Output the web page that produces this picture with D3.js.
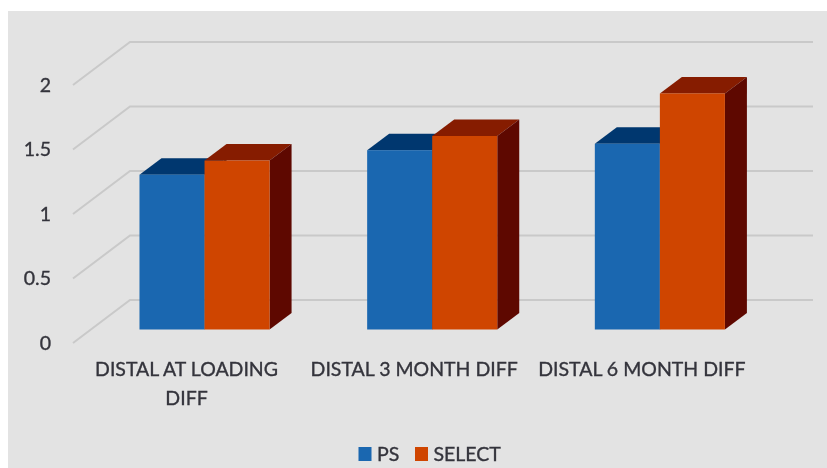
<!DOCTYPE html>
<html>
<head>
<meta charset="utf-8">
<script src="https://cdn.jsdelivr.net/npm/d3@7"></script>
<style>
	html, body { margin: 0; padding: 0; background: #fff; }
	svg { display: block; filter: blur(0.7px); }
	text { font-family: Lato, sans-serif; fill: #34343c; stroke: #34343c; stroke-width: 0.35px; }
</style>
</head>
<body>
<div id="chart"></div>
<script>
const categories = ['DISTAL AT LOADING DIFF', 'DISTAL 3 MONTH DIFF', 'DISTAL 6 MONTH DIFF'];
const psValues = [1.2, 1.39, 1.44];
const selectValues = [1.31, 1.5, 1.83];
const seriesNames = ['PS', 'SELECT'];
const yTicks = [0, 0.5, 1, 1.5, 2];

const width = 827;
const height = 468;
const fontSize = '19.5px';

const svg = d3.select('#chart').append('svg').attr('width', width).attr('height', height);

svg.append('rect').attr('x', 8).attr('y', 11).attr('width', width - 8).attr('height', height - 11).attr('fill', '#e3e3e3');

// bars stand on this scale, the walls are shifted from it
const y = d3.scaleLinear().domain([0, 2]).range([329.5, 71.5]);
const x0 = d3.scaleBand().domain(categories).range([90.7, 773.7]).paddingInner(0.4286).paddingOuter(0.2143);
const x1 = d3.scaleBand().domain(seriesNames).range([0, x0.bandwidth()]);

const depth = { x: 22, y: -16.5 };
const wall = { frontX: 73, backX: 130, rightX: 813, frontDy: 13.5, backDy: -29.5 };

const colors = {
	PS: { front: '#1a67b0', top: '#00376f', side: '#00264f' },
	SELECT: { front: '#cf4500', top: '#861c00', side: '#5e0800' },
};

// gridlines on the floor edge and back wall
svg.append('g')
	.selectAll('polyline')
	.data(yTicks)
	.enter()
	.append('polyline')
	.attr('fill', 'none')
	.attr('stroke', '#c9c9c9')
	.attr('stroke-width', 2)
	.attr('points', (d) => [
		[wall.frontX, y(d) + wall.frontDy],
		[wall.backX, y(d) + wall.backDy],
		[wall.rightX, y(d) + wall.backDy],
	].join(' '));

// y axis labels line up with the front ends of the gridlines
const yAxis = svg.append('g')
	.attr('transform', `translate(51,${wall.frontDy})`)
	.call(d3.axisLeft(y).tickValues(yTicks).tickSize(0).tickPadding(0).tickFormat((d) => String(d)));
yAxis.select('.domain').remove();
yAxis.selectAll('text').style('font-size', fontSize).style('font-family', 'Lato, sans-serif');

// bars, PS first so SELECT covers its side
const barData = categories.flatMap((c, i) => [
	{ category: c, series: 'PS', value: psValues[i] },
	{ category: c, series: 'SELECT', value: selectValues[i] },
]);

const bars = svg.append('g')
	.selectAll('g')
	.data(barData)
	.enter()
	.append('g')
	.attr('transform', (d) => `translate(${x0(d.category) + x1(d.series)},0)`);

bars.append('polygon')
	.attr('fill', (d) => colors[d.series].top)
	.attr('points', (d) => {
		const w = x1.bandwidth();
		const t = y(d.value);
		return [[0, t], [depth.x, t + depth.y], [w + depth.x, t + depth.y], [w, t]].join(' ');
	});

bars.append('polygon')
	.attr('fill', (d) => colors[d.series].side)
	.attr('points', (d) => {
		const w = x1.bandwidth();
		return [[w, y(d.value)], [w + depth.x, y(d.value) + depth.y], [w + depth.x, y(0) + depth.y], [w, y(0)]].join(' ');
	});

bars.append('rect')
	.attr('fill', (d) => colors[d.series].front)
	.attr('x', 0)
	.attr('y', (d) => y(d.value))
	.attr('width', x1.bandwidth())
	.attr('height', (d) => y(0) - y(d.value));

// category labels, the long one wraps
const xAxis = svg.append('g')
	.attr('transform', 'translate(-18,329.5)')
	.call(d3.axisBottom(x0).tickSize(0).tickFormat(''));
xAxis.select('.domain').remove();
xAxis.selectAll('.tick text').each(function(d) {
	const text = d3.select(this).text(null).attr('y', 0).attr('dy', null)
		.style('font-size', fontSize).style('font-family', 'Lato, sans-serif');
	const lines = d.length > 20 ? [d.slice(0, d.lastIndexOf(' ')), d.slice(d.lastIndexOf(' ') + 1)] : [d];
	lines.forEach((line, i) => {
		text.append('tspan').attr('x', 0).attr('y', 46 + i * 29).text(line);
	});
});

// legend
const legendX = d3.scaleOrdinal().domain(seriesNames).range([358.5, 415]);
const legend = svg.append('g')
	.selectAll('g')
	.data(seriesNames)
	.enter()
	.append('g')
	.attr('transform', (d) => `translate(${legendX(d)},447)`);
legend.append('rect').attr('width', 13).attr('height', 14).attr('fill', (d) => colors[d].front);
legend.append('text')
	.attr('x', 18.5)
	.attr('y', 14)
	.style('font-size', fontSize)
	.text((d) => d);
</script>
</body>
</html>
